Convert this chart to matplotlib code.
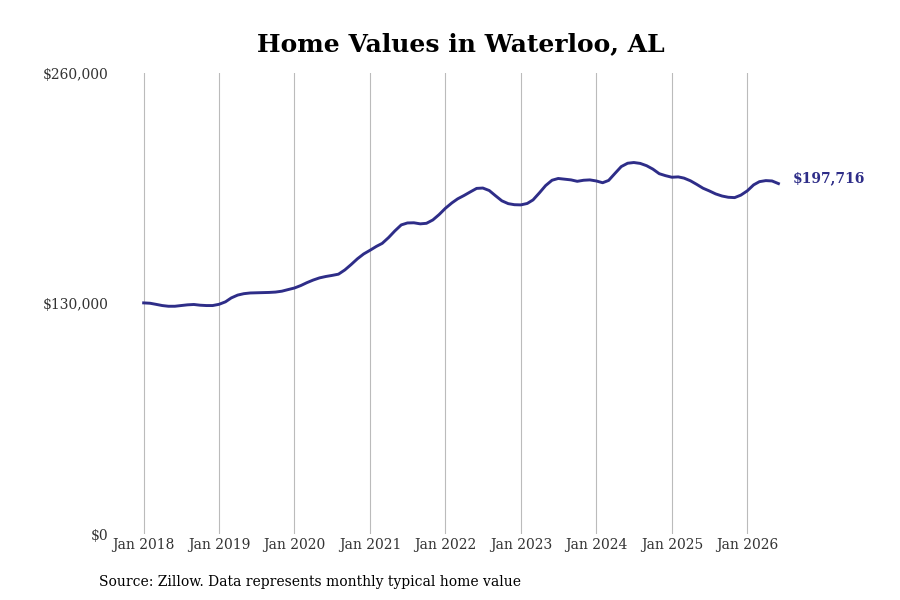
import numpy as np
import matplotlib.pyplot as plt
import pandas as pd

plt.rcParams['font.family'] = 'DejaVu Serif'

# monthly typical home value, Jan 2018 .. Jun 2026
dates = pd.date_range('2018-01-01', periods=102, freq='MS')
values = [
    130400, 130200, 129600, 128900, 128500, 128500, 128900, 129300, 129500, 129100, 128900, 128900,
    129600, 131000, 133200, 134800, 135600, 136000, 136100, 136200, 136300, 136500, 137000, 137900,
    138800, 140200, 141800, 143300, 144500, 145300, 145900, 146600, 149000, 152000, 155300, 158000,
    160100, 162300, 164000, 167300, 171000, 174400, 175500, 175600, 175000, 175300, 177200, 180200,
    183800, 186800, 189100, 191000, 193000, 195000, 195200, 193800, 190800, 188000, 186400, 185800,
    185700, 186500, 188500, 192500, 196600, 199600, 200600, 200200, 199800, 199000, 199600, 199800,
    199200, 198200, 199500, 203500, 207300, 209200, 209600, 209100, 207800, 205900, 203300, 202200,
    201300, 201500, 200800, 199300, 197300, 195100, 193600, 191900, 190700, 190000, 189800, 191200,
    193600, 197000, 198800, 199400, 199200, 197716,
]
years = list(range(2018, 2027))
ytick_vals = [0, 130000, 260000]
ytick_labels = ['$0', '$130,000', '$260,000']

line_color = '#2e2d88'

fig = plt.figure(figsize=(9, 6), dpi=100)
ax = fig.add_axes([0.133, 0.11, 0.745, 0.768])

ax.plot(dates, values, color=line_color, linewidth=2.1)

ticks = [pd.Timestamp(f'{y}-01-01') for y in years]
ax.set_xticks(ticks)
ax.set_xticklabels([f'Jan {y}' for y in years], fontsize=10, color='#333333')
ax.set_xlim(pd.Timestamp('2018-01-01') - pd.Timedelta(days=116),
            pd.Timestamp('2018-01-01') + pd.Timedelta(days=3130))
ax.set_ylim(0, 260000)
ax.set_yticks(ytick_vals)
ax.set_yticklabels(ytick_labels, fontsize=10, color='#333333')

ax.grid(axis='x', color='#bbbbbb', linewidth=0.8)
ax.grid(axis='y', visible=False)
for s in ax.spines.values():
    s.set_visible(False)
ax.tick_params(axis='both', length=0)
ax.tick_params(axis='x', pad=3)
ax.tick_params(axis='y', pad=8)

ax.annotate(f'${values[-1]:,}', xy=(dates[-1], values[-1]), xytext=(10, 4),
            textcoords='offset points', color=line_color, fontsize=10,
            fontweight='bold', va='center', ha='left', annotation_clip=False)

fig.text(0.512, 0.927, 'Home Values in Waterloo, AL', ha='center', va='center',
         fontsize=18, fontweight='bold')
fig.text(0.11, 0.03, 'Source: Zillow. Data represents monthly typical home value',
         ha='left', va='center', fontsize=10)

plt.savefig('out.png', dpi=100)
